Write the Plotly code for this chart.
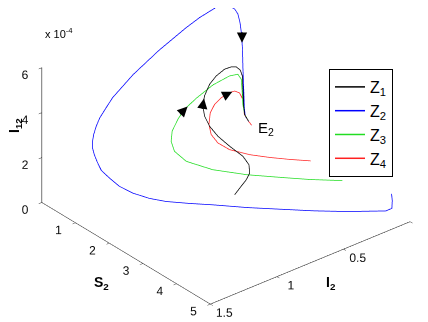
import plotly.graph_objects as go

# ---- data (I12 stored in units of 1e-4) ----
z1_I2 = [0.617, 0.562, 0.495, 0.456, 0.430, 0.428, 0.471, 0.516, 0.545, 0.559, 0.559, 0.544, 0.500, 0.451, 0.397, 0.359, 0.328, 0.301, 0.293, 0.279, 0.246, 0.212, 0.177, 0.160]
z1_S2 = [2.231, 2.164, 2.096, 2.042, 1.919, 1.732, 1.507, 1.336, 1.203, 1.111, 1.061, 1.049, 1.028, 1.030, 1.066, 1.111, 1.140, 1.153, 1.180, 1.143, 1.032, 0.930, 0.908, 0.930]
z1_I12 = [0.20, 0.30, 0.45, 0.60, 0.80, 1.00, 1.35, 1.75, 2.15, 2.55, 2.95, 3.35, 3.75, 4.00, 4.20, 4.25, 4.20, 4.00, 3.75, 3.10, 2.20, 1.60, 1.20, 1.00]

z2_I2 = [0.010, 0.015, 0.033, 0.079, 0.256, 0.399, 0.536, 0.672, 0.804, 0.915, 1.021, 1.098, 1.158, 1.201, 1.217, 1.238, 1.236, 1.237, 1.238, 1.227, 1.211, 1.182, 1.149, 1.092, 1.040, 0.877, 0.684, 0.475, 0.377, 0.251, 0.206, 0.198, 0.187, 0.184, 0.187, 0.190, 0.188, 0.184, 0.180, 0.179, 0.169, 0.160]
z2_S2 = [4.49, 4.53, 4.59, 4.59, 4.14, 3.72, 3.27, 2.82, 2.33, 2.071, 1.80, 1.605, 1.347, 1.119, 0.887, 0.728, 0.600, 0.520, 0.470, 0.427, 0.400, 0.360, 0.330, 0.300, 0.284, 0.250, 0.250, 0.240, 0.242, 0.239, 0.408, 0.574, 0.629, 0.682, 0.739, 0.780, 0.783, 0.789, 0.794, 0.818, 0.875, 0.930]
z2_I12 = [0.80, 0.55, 0.30, 0.30, 0.30, 0.30, 0.30, 0.30, 0.30, 0.40, 0.50, 0.65, 0.80, 1.00, 1.20, 1.45, 1.70, 1.95, 2.20, 2.45, 2.70, 2.95, 3.20, 3.50, 3.80, 4.40, 5.00, 5.50, 5.70, 5.85, 5.97, 5.95, 5.75, 5.40, 4.95, 4.25, 3.50, 2.60, 1.70, 1.35, 1.15, 1.00]

z3_I2 = [0.048, 0.185, 0.300, 0.439, 0.570, 0.668, 0.713, 0.720, 0.707, 0.670, 0.624, 0.556, 0.450, 0.342, 0.284, 0.264, 0.256, 0.242, 0.209, 0.177, 0.160]
z3_S2 = [3.18, 2.756, 2.34, 1.89, 1.40, 0.998, 0.827, 0.755, 0.734, 0.755, 0.772, 0.852, 0.927, 0.994, 1.013, 1.036, 1.028, 0.994, 0.915, 0.908, 0.930]
z3_I12 = [0.30, 0.30, 0.30, 0.35, 0.45, 0.70, 1.10, 1.50, 1.90, 2.35, 2.70, 3.10, 3.50, 3.70, 3.65, 3.40, 2.85, 2.20, 1.60, 1.20, 1.00]

z4_I2 = [0.127, 0.209, 0.292, 0.378, 0.455, 0.499, 0.525, 0.527, 0.493, 0.453, 0.399, 0.333, 0.290, 0.248, 0.224, 0.212, 0.177, 0.160]
z4_S2 = [2.55, 2.256, 1.99, 1.73, 1.44, 1.269, 1.174, 1.113, 1.019, 0.989, 0.973, 0.962, 0.938, 0.919, 0.924, 0.920, 0.908, 0.930]
z4_I12 = [0.80, 0.80, 0.85, 0.95, 1.10, 1.35, 1.70, 2.10, 2.45, 2.70, 2.85, 2.90, 2.85, 2.65, 2.30, 1.60, 1.20, 1.00]

names = ["Z<sub>1</sub>", "Z<sub>2</sub>", "Z<sub>3</sub>", "Z<sub>4</sub>"]
colors = ["#000000", "#0000ff", "#22dd22", "#ff2020"]

# equilibrium E2 and direction arrows (I2, S2, I12, tail dx, tail dy)
E2 = (0.160, 0.930, 1.00)
arrows = [
    (0.189, 0.760, 4.59, 0, -12),
    (0.606, 0.793, 2.80, -9, 9),
    (0.548, 1.050, 3.25, -2, 12),
    (0.310, 0.950, 2.88, -10, 5),
]

I2_ticks = [0, 0.5, 1, 1.5]
S2_ticks = [0, 1, 2, 3, 4, 5]
I12_ticks = [0, 2, 4, 6]

FONT = "Liberation Sans, Arial, Helvetica, sans-serif"

fig = go.Figure()
series = [(z1_I2, z1_S2, z1_I12), (z2_I2, z2_S2, z2_I12), (z3_I2, z3_S2, z3_I12), (z4_I2, z4_S2, z4_I12)]
for (xs, ys, zs), nm, c in zip(series, names, colors):
    fig.add_trace(go.Scatter3d(x=xs, y=ys, z=zs, mode="lines", name=nm,
                               line=dict(color=c, width=1.5), hoverinfo="skip"))

axis_common = dict(showgrid=False, zeroline=False, showbackground=False, showline=True,
                   linecolor="#222222", linewidth=1.2, ticks="outside", ticklen=4, tickangle=0,
                   tickcolor="#222222", tickfont=dict(size=12, family=FONT, color="#111"),
                   title=dict(text=""), showspikes=False, autorange=False)

scene_ann = [dict(x=E2[0], y=E2[1], z=E2[2], text="E<sub>2</sub>", showarrow=False,
                  xanchor="left", xshift=4, yshift=-3, font=dict(size=15, family=FONT, color="#000"))]
for (ax_, ay_, az_, dx, dy) in arrows:
    scene_ann.append(dict(x=ax_, y=ay_, z=az_, text="", showarrow=True, arrowhead=2,
                          arrowsize=1.7, arrowwidth=1.2, arrowcolor="#000", ax=dx, ay=dy))

s = 1.61
eye0 = (0.5526 * 2, 0.668 * 2, 0.499 * 2)
shift = (0.0189, -0.0157, -0.1743)
fig.update_layout(
    width=428, height=322, margin=dict(l=0, r=0, t=0, b=0),
    paper_bgcolor="white", plot_bgcolor="white",
    font=dict(family=FONT),
    scene=dict(
        domain=dict(x=[0, 1], y=[0, 1]),
        xaxis=dict(range=[0, 1.5], tickvals=I2_ticks, ticktext=["0", "0.5", "1", "1.5"], **axis_common),
        yaxis=dict(range=[0, 5], tickvals=S2_ticks, ticktext=[str(v) for v in S2_ticks], **axis_common),
        zaxis=dict(range=[0, 6], tickvals=I12_ticks, ticktext=[str(v) for v in I12_ticks], **axis_common),
        aspectmode="manual", aspectratio=dict(x=1 * s, y=1.02 * s, z=0.6 * s),
        camera=dict(eye=dict(x=eye0[0] + shift[0], y=eye0[1] + shift[1], z=eye0[2] + shift[2]),
                    up=dict(x=0, y=0, z=1),
                    center=dict(x=shift[0], y=shift[1], z=shift[2]),
                    projection=dict(type="orthographic")),
        annotations=scene_ann,
    ),
    legend=dict(x=0.750, y=0.8106, xanchor="left", yanchor="top", bgcolor="white",
                bordercolor="#000", borderwidth=1, font=dict(size=16, family=FONT, color="#000")),
    annotations=[
        dict(x=51 / 428, y=1 - 25 / 322, xref="paper", yref="paper", xanchor="center", yanchor="middle",
             text="x 10<sup>-4</sup>", showarrow=False, font=dict(size=11, family=FONT, color="#000")),
        dict(x=93 / 428, y=1 - 275 / 322, xref="paper", yref="paper", xanchor="center", yanchor="middle",
             text="<b>S<sub>2</sub></b>", showarrow=False, font=dict(size=14, family=FONT, color="#000")),
        dict(x=323 / 428, y=1 - 275 / 322, xref="paper", yref="paper", xanchor="center", yanchor="middle",
             text="<b>I<sub>2</sub></b>", showarrow=False, font=dict(size=14, family=FONT, color="#000")),
        dict(x=7 / 428, y=1 - 117 / 322, xref="paper", yref="paper", xanchor="center", yanchor="middle",
             text="<b>I<sub>12</sub></b>", textangle=-90, showarrow=False,
             font=dict(size=14, family=FONT, color="#000")),
    ],
)

fig.write_html("out.html")
